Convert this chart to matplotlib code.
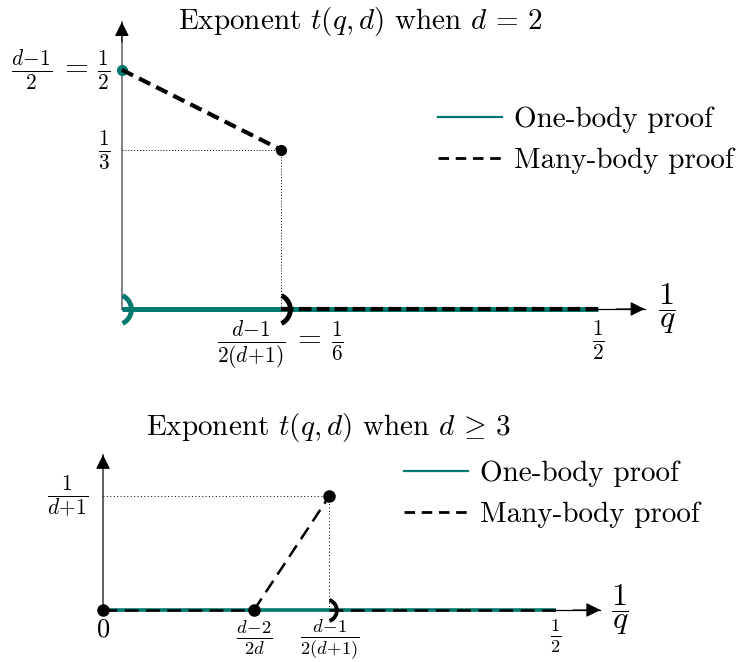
import numpy as np
import matplotlib
matplotlib.use('Agg')
import matplotlib.pyplot as plt
from matplotlib.path import Path
from matplotlib.lines import Line2D

plt.rcParams['font.family'] = 'serif'
plt.rcParams['font.serif'] = ['cmr10']
plt.rcParams['mathtext.fontset'] = 'cm'
plt.rcParams['axes.unicode_minus'] = False

TEAL = '#00796e'

# ---- data: d = 2 ----
top_one_x = [0, 1 / 2]
top_one_y = [0, 0]
top_many_diag_x = [0, 1 / 6]
top_many_diag_y = [1 / 2, 1 / 3]
top_many_flat_x = [1 / 6, 1 / 2]
top_many_flat_y = [0, 0]
top_xticks = [1 / 6, 1 / 2]
top_xticklabels = [r'$\frac{d\!-\!1}{2(d\!+\!1)}\,=\,\frac{1}{6}$', r'$\frac{1}{2}$']
top_yticks = [1 / 2, 1 / 3]
top_yticklabels = [r'$\frac{d\!-\!1}{2}\,=\,\frac{1}{2}$', r'$\frac{1}{3}$']

# ---- data: d >= 3 (drawn with d = 3) ----
bot_one_x = [0, 1 / 2]
bot_one_y = [0, 0]
bot_many_a_x = [0, 1 / 6]
bot_many_a_y = [0, 0]
bot_many_diag_x = [1 / 6, 1 / 4]
bot_many_diag_y = [0, 1 / 4]
bot_many_b_x = [1 / 4, 1 / 2]
bot_many_b_y = [0, 0]
bot_xticks = [0, 1 / 6, 1 / 4, 1 / 2]
bot_xticklabels = [r'$0$', r'$\frac{d\!-\!2}{2d}$', r'$\frac{d\!-\!1}{2(d\!+\!1)}$', r'$\frac{1}{2}$']
bot_yticks = [1 / 4]
bot_yticklabels = [r'$\frac{1}{d\!+\!1}$']

legend_labels = ['One-body proof', 'Many-body proof']


def bracket_marker(deg=65):
    t = np.radians(np.linspace(-deg, deg, 40))
    verts = np.column_stack([np.cos(t) - np.cos(np.radians(deg)), np.sin(t)])
    return Path(verts)


def draw_axes(ax, xend, yend, ycolor):
    ax.plot([0, 0], [0, yend], color=ycolor, lw=1.3, zorder=1)
    ax.plot([0, xend], [0, 0], color='black', lw=0.9, zorder=1)
    ax.annotate('', xy=(0, yend), xytext=(0, yend * 0.93),
                arrowprops=dict(arrowstyle='-|>', color='black', lw=0.8,
                                mutation_scale=22, shrinkA=0, shrinkB=0))
    ax.annotate('', xy=(xend, 0), xytext=(xend - 0.03, 0),
                arrowprops=dict(arrowstyle='-|>', color='black', lw=0.8,
                                mutation_scale=22, shrinkA=0, shrinkB=0))


def add_legend(ax, anchor):
    handles = [Line2D([], [], color=TEAL, lw=1.6),
               Line2D([], [], color='black', lw=2.0, dashes=(3.8, 2.4))]
    ax.legend(handles, legend_labels, loc='center left', bbox_to_anchor=anchor,
              bbox_transform=fig.transFigure, frameon=False, fontsize=21,
              handlelength=2.2, handletextpad=0.42, labelspacing=0.5,
              borderpad=0, borderaxespad=0)


fig = plt.figure(figsize=(7.37, 6.62), dpi=100)

# ---------------- top panel ----------------
ax1 = fig.add_axes([0, 0.426, 1, 0.574])
ax1.set_xlim(-0.128, 0.646)
ax1.set_ylim(-0.1485, 0.646)
ax1.axis('off')

draw_axes(ax1, 0.549, 0.6, '#777777')

ax1.plot([0, top_many_diag_x[1]], [top_many_diag_y[1]] * 2, color='black', lw=0.7, ls=(0, (1, 2)))
ax1.plot([top_many_diag_x[1]] * 2, [0, top_many_diag_y[1]], color='black', lw=0.7, ls=(0, (1, 2)))

ax1.plot(top_one_x, top_one_y, color=TEAL, lw=3.6, solid_capstyle='butt', zorder=3)
ax1.plot(top_many_flat_x, top_many_flat_y, color='black', lw=3, dashes=(3, 1.3), zorder=4)
ax1.plot(top_many_diag_x, top_many_diag_y, color='black', lw=3, dashes=(3, 1.6), zorder=4)
ax1.plot(top_many_diag_x[:1], top_many_diag_y[:1], 'o', color=TEAL, ms=7, zorder=3)
ax1.plot(top_many_diag_x[1:], top_many_diag_y[1:], 'o', color='black', ms=7, zorder=5)

ax1.plot(top_one_x[:1], top_one_y[:1], marker=bracket_marker(), ms=20, mfc='none',
         mec=TEAL, mew=3.5, ls='none', zorder=5)
ax1.plot(top_xticks[:1], [0], marker=bracket_marker(), ms=20, mfc='none',
         mec='black', mew=3.5, ls='none', zorder=5)

for x, lab in zip(top_xticks, top_xticklabels):
    ax1.text(x, -0.02, lab, ha='center', va='top', fontsize=22)
for y, lab in zip(top_yticks, top_yticklabels):
    ax1.text(-0.012, y, lab, ha='right', va='center', fontsize=22)
ax1.text(0.572, 0.0, r'$\dfrac{1}{q}$', ha='center', va='center', fontsize=23)
ax1.text(0.25, 0.602, r'Exponent $t(q,d)$ when $d\,=\,2$', ha='center', va='center', fontsize=21)

add_legend(ax1, (0.594, 0.788))

# ---------------- bottom panel ----------------
ax2 = fig.add_axes([0, 0, 1, 0.426])
ax2.set_xlim(-0.1137, 0.6998)
ax2.set_ylim(-0.114, 0.504)
ax2.axis('off')

draw_axes(ax2, 0.549, 0.34, '#555555')

ax2.plot([0, bot_many_diag_x[1]], [bot_many_diag_y[1]] * 2, color='black', lw=0.7, ls=(0, (1, 2.5)))
ax2.plot([bot_many_diag_x[1]] * 2, [0, bot_many_diag_y[1]], color='black', lw=0.7, ls=(0, (1, 2.5)))

ax2.plot(bot_one_x, bot_one_y, color=TEAL, lw=2.6, solid_capstyle='butt', zorder=3)
ax2.plot(bot_many_a_x, bot_many_a_y, color='black', lw=1.8, dashes=(5.5, 3), zorder=4)
ax2.plot(bot_many_b_x, bot_many_b_y, color='black', lw=1.8, dashes=(5.5, 3), zorder=4)
ax2.plot(bot_many_diag_x, bot_many_diag_y, color='black', lw=1.8, dashes=(5.5, 3), zorder=4)
ax2.plot([bot_many_a_x[0], bot_many_diag_x[0], bot_many_diag_x[1]],
         [bot_many_a_y[0], bot_many_diag_y[0], bot_many_diag_y[1]],
         'o', color='black', ms=8, zorder=5)
ax2.plot(bot_many_b_x[:1], [0], marker=bracket_marker(70), ms=15, mfc='none',
         mec='black', mew=2.8, ls='none', zorder=5)

for x, lab in zip(bot_xticks, bot_xticklabels):
    ax2.text(x, -0.017, lab, ha='center', va='top', fontsize=19)
for y, lab in zip(bot_yticks, bot_yticklabels):
    ax2.text(-0.016, y, lab, ha='right', va='center', fontsize=22)
ax2.text(0.571, 0.0, r'$\dfrac{1}{q}$', ha='center', va='center', fontsize=23)
ax2.text(0.249, 0.4, r'Exponent $t(q,d)$ when $d\,\geq\,3$', ha='center', va='center', fontsize=21)

add_legend(ax2, (0.548, 0.253))

fig.savefig('out.png', dpi=100)
